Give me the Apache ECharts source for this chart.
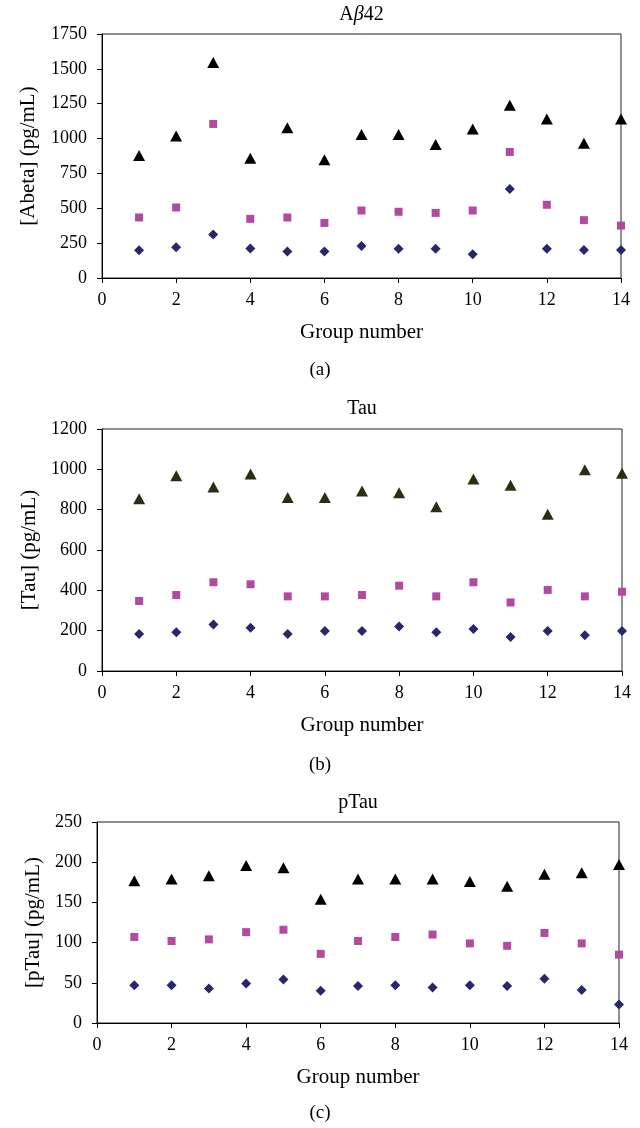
<!DOCTYPE html>
<html>
<head>
<meta charset="utf-8">
<script src="https://cdn.jsdelivr.net/npm/echarts@6/dist/echarts.min.js"></script>
<style>
html,body{margin:0;padding:0;background:#fff;}
#chart{width:640px;height:1128px;}
</style>
</head>
<body>
<div id="chart"></div>
<script>
const groups = [1,2,3,4,5,6,7,8,9,10,11,12,13,14];

const abetaTri = [878,1019,1546,858,1077,849,1029,1029,957,1068,1239,1140,967,1140];
const abetaSq  = [434,506,1105,424,434,395,484,475,467,484,904,525,415,376];
const abetaDia = [199,221,312,211,190,190,230,209,209,170,638,209,201,201];

const tauTri = [854,968,913,977,860,860,893,884,815,952,921,777,998,980];
const tauSq  = [347,377,440,430,370,370,377,423,370,440,340,402,370,393];
const tauDia = [183,192,230,215,183,198,198,221,192,208,169,198,177,198];

const ptauTri = [177,179,183,196,193,154,179,179,179,176,170,185,187,197];
const ptauSq  = [107,102,104,113,116,86,102,107,110,99,96,112,99,85];
const ptauDia = [47,47,43,49,54,40,46,47,44,47,46,55,41,23];

const panelTitles = ['Aβ42','Tau','pTau'];
const yNames = ['[Abeta] (pg/mL)','[Tau] (pg/mL)','[pTau] (pg/mL)'];
const xName = 'Group number';
const captions = ['(a)','(b)','(c)'];
const yMax = [1750,1200,250];
const yStep = [250,200,50];

const FONT = 'Liberation Serif';
const C_TRI = ['#000000','#2b2f12','#000000'];
const C_SQ = '#b24aa2';
const C_DIA = '#27276e';

const grids = [
  {left:102, right:19, top:34, height:244},
  {left:102, right:18, top:429, height:242},
  {left:97, right:21, top:822, height:201}
];
const yNameGap = [63, 60, 50];

const chart = echarts.init(document.getElementById('chart'), null, {renderer:'canvas'});

const pairs = arr => groups.map((g,i)=>[g, arr[i]]);
const seriesSets = [
  [abetaTri, abetaSq, abetaDia],
  [tauTri, tauSq, tauDia],
  [ptauTri, ptauSq, ptauDia]
];

const option = {
  backgroundColor:'#fff',
  animation:false,
  textStyle:{fontFamily:FONT},
  grid: grids.map(g=>Object.assign({show:true, borderColor:'#222', borderWidth:1, backgroundColor:'transparent'}, g)),
  xAxis: grids.map((g,i)=>({
    gridIndex:i, type:'value', min:0, max:14, interval:2,
    name:xName, nameLocation:'middle', nameGap:44,
    nameTextStyle:{fontFamily:FONT, fontSize:21, color:'#000'},
    axisLine:{show:true, onZero:false, lineStyle:{color:'#000', width:1}},
    axisTick:{show:true, length:5, inside:false, lineStyle:{color:'#000'}},
    axisLabel:{fontFamily:FONT, fontSize:18, color:'#000', margin:13, formatter:v=>String(v)},
    splitLine:{show:false}
  })),
  yAxis: grids.map((g,i)=>({
    gridIndex:i, type:'value', min:0, max:yMax[i], interval:yStep[i],
    name:yNames[i], nameLocation:'middle', nameGap:yNameGap[i], nameRotate:90,
    nameTextStyle:{fontFamily:FONT, fontSize:21, color:'#000'},
    axisLine:{show:true, onZero:false, lineStyle:{color:'#000', width:1}},
    axisTick:{show:true, length:5, inside:false, lineStyle:{color:'#000'}},
    axisLabel:{fontFamily:FONT, fontSize:18, color:'#000', margin:15, formatter:v=>String(v)},
    splitLine:{show:false}
  })),
  series: [],
  graphic: []
};

seriesSets.forEach((set,i)=>{
  option.series.push({
    type:'scatter', xAxisIndex:i, yAxisIndex:i, clip:false,
    symbol:'triangle', symbolSize:[12,11],
    itemStyle:{color:C_TRI[i], opacity:1}, data:pairs(set[0]), z:3
  });
  option.series.push({
    type:'scatter', xAxisIndex:i, yAxisIndex:i, clip:false,
    symbol:'rect', symbolSize:[8,8],
    itemStyle:{color:C_SQ, opacity:1}, data:pairs(set[1]), z:3
  });
  option.series.push({
    type:'scatter', xAxisIndex:i, yAxisIndex:i, clip:false,
    symbol:'diamond', symbolSize:[10,10],
    itemStyle:{color:C_DIA, opacity:1}, data:pairs(set[2]), z:3
  });
});

const titleY = [15, 409, 803];
const captionY = [370, 765, 1113];
grids.forEach((g,i)=>{
  const cx = g.left + (640 - g.left - g.right)/2;
  let txt, rich;
  if (i === 0) {
    txt = 'A{b|β}42';
    rich = {b:{fontFamily:FONT, fontSize:20, fontStyle:'italic', fill:'#000'}};
  } else {
    txt = panelTitles[i];
    rich = {};
  }
  option.graphic.push({
    type:'text', x:cx, y:titleY[i],
    style:{text:txt, rich:rich, fontFamily:FONT, fontSize:20, fill:'#000', align:'center', verticalAlign:'middle'}
  });
  option.graphic.push({
    type:'text', x:320, y:captionY[i],
    style:{text:captions[i], fontFamily:FONT, fontSize:19, fill:'#000', align:'center', verticalAlign:'middle'}
  });
});

chart.setOption(option);
</script>
</body>
</html>
